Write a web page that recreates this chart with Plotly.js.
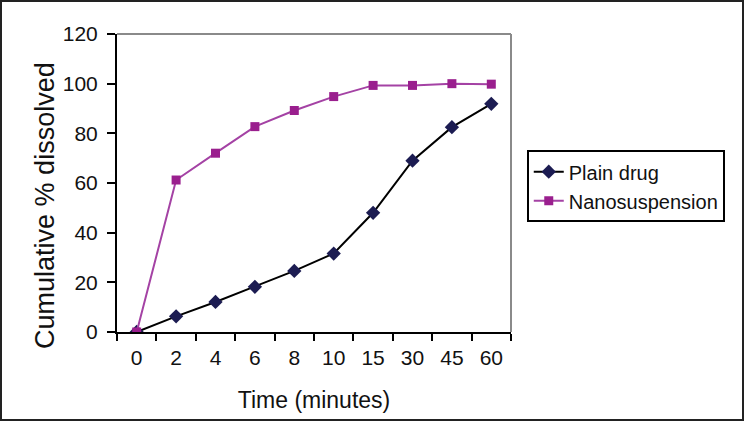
<!DOCTYPE html>
<html>
<head>
<meta charset="utf-8">
<script src="https://cdn.plot.ly/plotly-3.0.1.min.js"></script>
<style>
html,body{margin:0;padding:0;background:#fff;}
#wrap{position:relative;width:744px;height:421px;}
#chart{width:744px;height:421px;}
#frame{position:absolute;left:0;top:0;width:744px;height:421px;box-sizing:border-box;border:2px solid #222;pointer-events:none;}
</style>
</head>
<body>
<div id="wrap"><div id="chart"></div><div id="frame"></div></div>
<script>
const timeLabels = ["0","2","4","6","8","10","15","30","45","60"];
const plainDrug = [0, 6.3, 12.1, 18.2, 24.6, 31.6, 48.0, 69.0, 82.5, 91.9];
const nanosuspension = [0, 61.2, 72.0, 82.7, 89.2, 94.8, 99.3, 99.3, 100.0, 99.8];
const yTicks = [0, 20, 40, 60, 80, 100, 120];
const yTitle = "Cumulative % dissolved";
const xTitle = "Time (minutes)";

const font = "Liberation Sans, Arial, Helvetica, sans-serif";

const traces = [
  {
    x: timeLabels, y: plainDrug, name: "Plain drug", type: "scatter", mode: "lines+markers",
    line: {color: "#000000", width: 2},
    marker: {symbol: "diamond", size: 11, color: "#1c1c52"}
  },
  {
    x: timeLabels, y: nanosuspension, name: "Nanosuspension", type: "scatter", mode: "lines+markers",
    line: {color: "#a442a4", width: 2},
    marker: {symbol: "square", size: 9, color: "#9a1f8e"}
  }
];

const layout = {
  width: 744, height: 421,
  margin: {l: 117, r: 233, t: 34, b: 89},
  paper_bgcolor: "#ffffff", plot_bgcolor: "#ffffff",
  font: {family: font, color: "#111", size: 20},
  showlegend: true,
  legend: {
    x: 1.04, y: 0.61, xanchor: "left", yanchor: "top",
    bordercolor: "#000", borderwidth: 2, bgcolor: "#fff",
    font: {family: font, size: 20, color: "#111"},
    tracegroupgap: 0, itemwidth: 30
  },
  xaxis: {
    type: "category", range: [-0.5, 9.5],
    tickmode: "array", tickvals: timeLabels, ticktext: timeLabels,
    tickson: "boundaries", ticks: "outside", ticklen: 7, tickwidth: 2, tickcolor: "#000",
    showline: true, linecolor: "#000", linewidth: 2,
    showgrid: false, zeroline: false,
    ticklabelstandoff: 6,
    tickfont: {family: font, size: 21, color: "#111"},
    title: {text: xTitle, font: {family: font, size: 23, color: "#111"}, standoff: 24}
  },
  yaxis: {
    range: [0, 120], tickmode: "array", tickvals: yTicks,
    ticks: "outside", ticklen: 8, tickwidth: 2, tickcolor: "#000",
    showline: true, linecolor: "#000", linewidth: 2,
    showgrid: false, zeroline: false,
    tickfont: {family: font, size: 21, color: "#111"},
    ticklabelstandoff: 5
  },
  annotations: [
    {text: yTitle, xref: "paper", yref: "paper", x: -0.183, y: 0.426,
     xanchor: "center", yanchor: "middle", textangle: -90, showarrow: false,
     font: {family: font, size: 27, color: "#111"}}
  ],
  shapes: [
    {type: "line", xref: "paper", yref: "paper", x0: 0, x1: 1, y0: 1, y1: 1, line: {color: "#8a8a8a", width: 2}},
    {type: "line", xref: "paper", yref: "paper", x0: 1, x1: 1, y0: 0, y1: 1, line: {color: "#8a8a8a", width: 2}}
  ]
};

Plotly.newPlot("chart", traces, layout, {displayModeBar: false, staticPlot: true});
</script>
</body>
</html>
